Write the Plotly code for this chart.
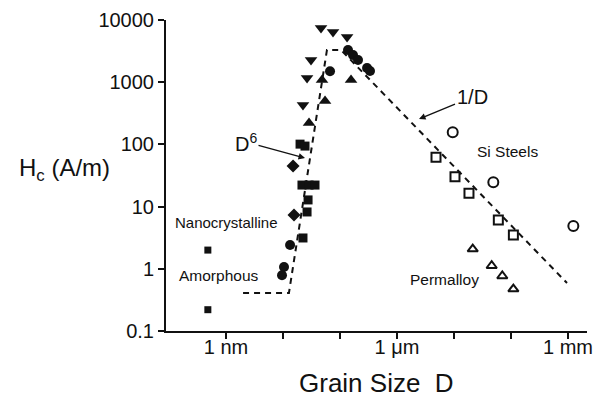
import numpy as np
import plotly.graph_objects as go

# ---------------- data (grain size in nm, Hc in A/m) ----------------
amorph_x = [0.48, 0.48]
amorph_y = [2.0, 0.22]

tri_down_x = [46.4, 75.4, 133, 31.0, 26.4, 22.4]
tri_down_y = [7430, 6410, 5330, 2280, 1170, 430]

tri_up_x = [156, 54.6, 28.6, 48.3]
tri_up_y = [1085, 499, 221, 1084]

circ_x = [138, 169, 207, 298, 336, 66.8, 13.3, 10.4, 9.6]
circ_y = [3300, 2735, 2276, 1690, 1514, 1496, 2.42, 1.07, 0.79]

diam_x = [15.0, 15.6]
diam_y = [45, 7.3]

sq_x = [19.9, 24.3, 21.5, 28.6, 36.4, 27.5, 26.4, 22.4]
sq_y = [101, 94, 22.2, 22.2, 22.2, 12.8, 8.2, 3.13]

si_circ_x = [9490, 48900, 1.24e6]
si_circ_y = [157, 24.6, 4.88]

si_sq_x = [4830, 10400, 18300, 59900, 110000]
si_sq_y = [62, 30.3, 16.4, 6.09, 3.49]

perm_x = [21300, 45800, 70300, 110000]
perm_y = [2.08, 1.12, 0.766, 0.473]

# guide line (plateau, D^6, peak, 1/D)
guide_x = [1.99, 12.7, 59, 104, 9.6e5]
guide_y = [0.41, 0.41, 3300, 3300, 0.59]

x_tickvals = [1, 1e3, 1e6]
x_ticktext = ["1 nm", "1 \u03bcm", "1 mm"]
x_minorvals = [10, 100, 1e4, 1e5]
x_alltickvals = [1, 10, 100, 1e3, 1e4, 1e5, 1e6]
y_tickvals = [0.1, 1, 10, 100, 1000, 10000]
y_ticktext = ["0.1", "1", "10", "100", "1000", "10000"]

FONT = "Liberation Sans, Arial, Helvetica, sans-serif"
BLACK = "#111111"

fig = go.Figure()

fig.add_trace(go.Scatter(x=guide_x, y=guide_y, mode="lines",
                         line=dict(color=BLACK, width=2, dash="6px,5px"),
                         hoverinfo="skip"))

def filled(x, y, sym, size):
    fig.add_trace(go.Scatter(x=x, y=y, mode="markers",
                             marker=dict(symbol=sym, size=size, color=BLACK,
                                         line=dict(width=0))))

def openm(x, y, sym, size):
    fig.add_trace(go.Scatter(x=x, y=y, mode="markers",
                             marker=dict(symbol=sym, size=size, color="white",
                                         line=dict(width=2, color=BLACK))))

filled(amorph_x, amorph_y, "square", 7)
filled(tri_down_x, tri_down_y, "triangle-down", 11)
filled(tri_up_x, tri_up_y, "triangle-up", 11)
filled(circ_x, circ_y, "circle", 10)
filled(diam_x, diam_y, "diamond", 10)
filled(sq_x, sq_y, "square", 9)
openm(si_circ_x, si_circ_y, "circle", 10)
openm(si_sq_x, si_sq_y, "square", 9)
openm(perm_x, perm_y, "triangle-up", 9)

lg = np.log10
anns = []
def label(text, x, y, size):
    anns.append(dict(text=text, x=lg(x), y=lg(y), xref="x", yref="y",
                     showarrow=False, font=dict(family=FONT, size=size, color=BLACK),
                     xanchor="center", yanchor="middle"))

label("Nanocrystalline", 1.04, 5.65, 15)
label("Amorphous", 0.738, 0.794, 15.5)
label("Si Steels", 87500, 76.4, 15.5)
label("Permalloy", 6680, 0.661, 15.5)

# labels with arrows (arrow head on the guide line, text offset in px)
anns.append(dict(text="D<sup>6</sup>", x=lg(24.3), y=lg(60.4), xref="x", yref="y",
                 showarrow=True, ax=-59, ay=-16, arrowhead=2, arrowsize=1,
                 arrowwidth=1.3, arrowcolor=BLACK, standoff=0,
                 font=dict(family=FONT, size=20, color=BLACK)))
anns.append(dict(text="1/D", x=lg(2432), y=lg(256), xref="x", yref="y",
                 showarrow=True, ax=53, ay=-22, arrowhead=2, arrowsize=1,
                 arrowwidth=1.3, arrowcolor=BLACK, standoff=0,
                 font=dict(family=FONT, size=20, color=BLACK)))

# axis titles
anns.append(dict(text="H<sub>c</sub> (A/m)", x=-0.24, y=0.518, xref="paper", yref="paper",
                 showarrow=False, font=dict(family=FONT, size=24, color=BLACK),
                 xanchor="center", yanchor="middle"))
anns.append(dict(text="Grain Size\u00a0 D", x=0.5, y=-0.167, xref="paper", yref="paper",
                 showarrow=False, font=dict(family=FONT, size=26, color=BLACK),
                 xanchor="center", yanchor="middle"))

xr = [-1.053, 6.333]
yr = [-1, 4]

fig.update_layout(
    width=593, height=398,
    margin=dict(l=166, r=6, t=20, b=67, autoexpand=False),
    paper_bgcolor="white", plot_bgcolor="white",
    showlegend=False,
    annotations=anns,
    xaxis=dict(type="log", range=xr, tickmode="array", tickvals=x_tickvals,
               ticktext=x_ticktext, ticklabeloverflow="allow", ticklabelstandoff=-9,
               automargin=False,
               ticks="outside", ticklen=6, tickwidth=2, tickcolor=BLACK,
               minor=dict(tickmode="array", tickvals=x_minorvals, ticks="outside",
                          ticklen=6, tickwidth=2, tickcolor=BLACK, showgrid=False),
               showline=True, linewidth=2, linecolor=BLACK, showgrid=False,
               zeroline=False, tickfont=dict(family=FONT, size=20, color=BLACK)),
    yaxis=dict(type="log", range=yr, tickmode="array", tickvals=y_tickvals,
               ticktext=y_ticktext, automargin=False,
               ticks="outside", ticklen=6, tickwidth=2, tickcolor=BLACK,
               showline=True, linewidth=2, linecolor=BLACK, showgrid=False,
               zeroline=False, tickfont=dict(family=FONT, size=20, color=BLACK)),
    xaxis2=dict(type="log", range=xr, overlaying="x", side="top", anchor="y",
                tickmode="array", tickvals=x_alltickvals, showticklabels=False,
                automargin=False,
                ticks="inside", ticklen=6, tickwidth=1.5, tickcolor="#444",
                showline=True, linewidth=1.5, linecolor="#444", showgrid=False,
                zeroline=False),
    yaxis2=dict(type="log", range=yr, overlaying="y", side="right", anchor="x",
                tickmode="array", tickvals=y_tickvals, showticklabels=False,
                automargin=False,
                ticks="inside", ticklen=6, tickwidth=1.5, tickcolor="#444",
                showline=True, linewidth=1.5, linecolor="#444", showgrid=False,
                zeroline=False),
)

fig.write_html("out.html")
